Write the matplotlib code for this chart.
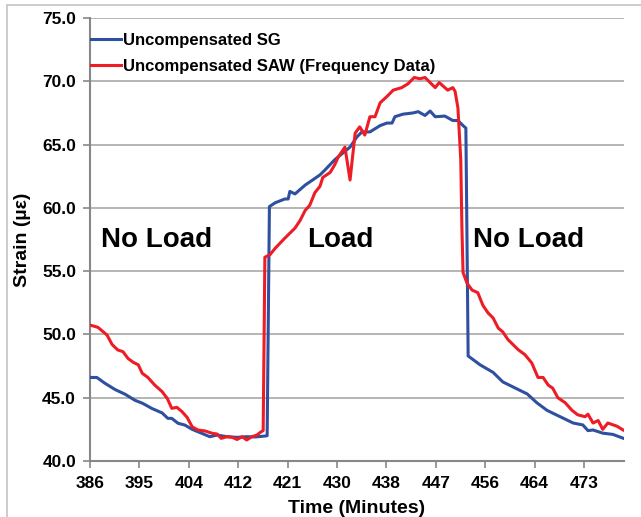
"""
Strain vs time: uncompensated SG vs uncompensated SAW, load / no-load phases.
"""
import matplotlib
matplotlib.use("Agg")
import matplotlib.pyplot as plt
from matplotlib.patches import Rectangle

plt.rcParams["font.family"] = ["Liberation Sans", "DejaVu Sans"]
plt.rcParams["font.weight"] = "bold"

# time (minutes) / strain (µε)
SG_T = [386.0, 387.2, 388.6, 390.4, 392.2, 393.9, 395.3, 396.9, 398.7, 399.7,
        400.4, 401.5, 402.7, 404.0, 405.4, 407.1, 408.4, 410.1, 411.9, 413.6,
        415.1, 416.8, 417.2, 417.6, 418.6, 420.3, 420.9, 421.2, 422.1, 423.9,
        426.5, 427.4, 429.1, 431.8, 433.0, 433.9, 435.3, 437.1, 438.3, 439.2,
        439.7, 441.1, 442.9, 443.8, 445.0, 445.9, 446.8, 448.5, 449.9, 450.8,
        451.7, 452.2, 452.6, 454.7, 457.0, 458.7, 460.5, 463.0, 464.7, 466.5,
        468.8, 471.1, 472.8, 473.7, 474.6, 476.3, 478.1, 479.9]
SG_V = [46.6, 46.6, 46.15, 45.65, 45.27, 44.8, 44.55, 44.15, 43.8, 43.37,
        43.37, 42.98, 42.84, 42.5, 42.24, 41.92, 42.05, 41.92, 41.87, 41.92,
        41.9, 41.97, 42.0, 60.1, 60.4, 60.7, 60.7, 61.3, 61.1, 61.8,
        62.6, 63.0, 63.8, 64.8, 65.6, 66.0, 66.0, 66.5, 66.7, 66.7,
        67.2, 67.4, 67.5, 67.6, 67.3, 67.65, 67.2, 67.25, 66.9, 66.9,
        66.5, 66.3, 48.3, 47.6, 47.0, 46.25, 45.85, 45.3, 44.6, 44.0,
        43.5, 43.0, 42.85, 42.4, 42.45, 42.2, 42.1, 41.8]

SAW_T = [386.0, 387.4, 389.0, 389.9, 390.9, 391.8, 392.7, 393.6, 394.5, 395.2,
         396.2, 397.4, 398.7, 399.6, 400.4, 401.3, 402.2, 403.1, 404.0, 405.0,
         406.3, 407.5, 408.4, 409.1, 410.1, 411.0, 411.9, 412.8, 413.6, 414.5,
         415.4, 416.1, 416.5, 416.8, 417.7, 418.6, 420.3, 422.1, 423.0, 423.9,
         424.7, 425.6, 426.5, 427.0, 428.3, 429.1, 429.7, 430.9, 431.8, 432.7,
         433.5, 434.4, 435.3, 436.2, 437.1, 438.3, 439.4, 440.9, 442.0, 443.1,
         444.1, 445.0, 446.8, 447.5, 448.5, 449.0, 449.9, 450.3, 450.8, 451.3,
         451.5, 451.7, 452.4, 453.3, 454.3, 455.2, 456.1, 457.0, 457.9, 458.7,
         459.6, 460.5, 461.4, 462.6, 463.8, 464.9, 465.8, 466.7, 467.5, 468.4,
         469.7, 470.9, 471.9, 473.2, 473.7, 474.6, 475.5, 476.3, 477.2, 478.8,
         479.9]
SAW_V = [50.74, 50.56, 49.95, 49.2, 48.77, 48.64, 48.1, 47.8, 47.6, 46.93,
         46.6, 46.0, 45.48, 44.95, 44.16, 44.24, 43.9, 43.45, 42.7, 42.45,
         42.37, 42.19, 42.13, 41.79, 41.92, 41.88, 41.7, 41.92, 41.66, 41.92,
         42.05, 42.3, 42.4, 56.1, 56.3, 56.8, 57.6, 58.4, 59.0, 59.8,
         60.2, 61.2, 61.7, 62.4, 62.8, 63.4, 64.0, 64.8, 62.2, 65.9,
         66.4, 65.75, 67.2, 67.2, 68.3, 68.8, 69.3, 69.5, 69.8, 70.3,
         70.2, 70.3, 69.5, 69.9, 69.5, 69.3, 69.5, 69.2, 67.9, 63.8,
         58.5, 54.9, 54.05, 53.5, 53.3, 52.3, 51.7, 51.3, 50.5, 50.2,
         49.6, 49.2, 48.8, 48.4, 47.75, 46.6, 46.6, 46.0, 45.75, 45.0,
         44.6, 44.0, 43.65, 43.5, 43.7, 43.0, 43.2, 42.5, 43.0, 42.75,
         42.45]

X_TICK_LABELS = ["386", "395", "404", "412", "421", "430", "438", "447", "456", "464", "473"]
X_TICK_STEP = 8.7
Y_TICKS = [40.0, 45.0, 50.0, 55.0, 60.0, 65.0, 70.0, 75.0]

PHASES = [("No Load", 397.7), ("Load", 430.1), ("No Load", 463.3)]

fig = plt.figure(figsize=(6.41, 5.17), dpi=100)
fig.patches.append(Rectangle((7 / 641, -0.1), 1.2, 1.1 - 5 / 517,
                             transform=fig.transFigure, fill=False,
                             edgecolor="#c8c8c8", linewidth=1.3))
ax = fig.add_axes([90 / 641, 56 / 517, 534 / 641, 443 / 517])

ax.plot(SG_T, SG_V, color="#2f4f9f", linewidth=2.2, label="Uncompensated SG",
        zorder=3)
ax.plot(SAW_T, SAW_V, color="#ee1c25", linewidth=2.2,
        label="Uncompensated SAW (Frequency Data)", zorder=3)

ax.set_xlim(386, 480.05)
ax.set_ylim(40, 75)
ax.set_xticks([386 + X_TICK_STEP * i for i in range(len(X_TICK_LABELS))])
ax.set_xticklabels(X_TICK_LABELS)
ax.set_yticks(Y_TICKS)
ax.set_yticklabels([f"{v:.1f}" for v in Y_TICKS])
ax.tick_params(axis="both", labelsize=12.5, length=5, width=1.2,
               color="#888888", direction="out")
ax.tick_params(axis="y", pad=5)
ax.tick_params(axis="x", pad=6)
for lbl in ax.get_xticklabels() + ax.get_yticklabels():
    lbl.set_fontweight("bold")

ax.grid(axis="y", color="#a0a0a0", linewidth=1.1)
ax.set_axisbelow(True)
for side in ("top", "right"):
    ax.spines[side].set_visible(False)
for side in ("left", "bottom"):
    ax.spines[side].set_color("#888888")
    ax.spines[side].set_linewidth(1.5)

ax.set_xlabel("Time (Minutes)", fontsize=14, fontweight="bold", labelpad=6)
ax.set_ylabel("Strain (µε)", fontsize=14, fontweight="bold", labelpad=8)

for text, xpos in PHASES:
    ax.text(xpos, 57.5, text, fontsize=20, fontweight="bold",
            ha="center", va="center")

ax.legend(loc="upper left", bbox_to_anchor=(0.002, 0.966), frameon=False,
          handlelength=1.8, handletextpad=0.12, labelspacing=0.66,
          borderpad=0, borderaxespad=0, prop={"weight": "bold", "size": 12})

fig.savefig("out.png", dpi=100)
